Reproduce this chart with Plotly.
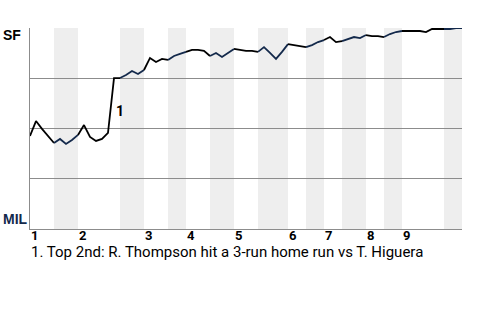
import plotly.graph_objects as go
import numpy as np

# Win probability for SF (%) after each plate appearance (index 0 = game start)
sf_win_prob = [46.3, 53.7, 49.8, 46.3, 42.8,
               44.8, 42.3, 44.3, 46.8,
               51.7, 45.8, 43.8, 44.8, 47.8, 75.1, 75.1,
               76.6, 78.6, 77.1, 79.1,
               85.1, 83.1, 84.6, 84.1,
               86.1, 87.1, 88.1,
               89.1, 89.1, 88.6, 86.1,
               87.6, 85.6, 87.6, 89.6,
               89.1, 88.6, 88.6, 88.1,
               90.5, 87.6, 84.6, 88.1, 92.0,
               91.5, 91.0, 90.5,
               91.5, 93.0, 94.0,
               95.5, 93.0, 93.5,
               94.5, 95.5, 95.0, 96.5,
               96.0, 96.0, 95.5,
               97.0, 98.0, 98.5,
               98.5, 98.5, 98.5, 98.0, 99.5, 99.5, 99.5,
               99.5, 100.0, 100.0]

# Plate appearances per half inning (top 1, bottom 1, top 2, ...)
half_inning_pas = [4, 4, 7, 4, 4, 3, 4, 4, 4, 5, 3, 3, 3, 4, 3, 3, 7, 3]
inning_labels = ["1", "2", "3", "4", "5", "6", "7", "8", "9"]

# Key events
event_index = [14]
event_labels = ["1"]
footnote = "1. Top 2nd: R. Thompson hit a 3-run home run vs T. Higuera"

away_team, home_team = "SF", "MIL"
away_color, home_color = "#000000", "#13294B"
FONT = "Liberation Sans, Arial, sans-serif"
FONT2 = "Roboto, sans-serif"

bounds = np.concatenate([[0], np.cumsum(half_inning_pas)])
total = int(bounds[-1])
xs = list(range(len(sf_win_prob)))

fig = go.Figure()
for i in range(len(half_inning_pas)):
    a, b = int(bounds[i]), int(bounds[i + 1])
    fig.add_trace(go.Scatter(
        x=xs[a:b + 1], y=sf_win_prob[a:b + 1], mode="lines",
        line=dict(color=away_color if i % 2 == 0 else home_color, width=1.8),
        hoverinfo="skip", showlegend=False))

shapes = []
for i in range(1, len(half_inning_pas), 2):
    shapes.append(dict(type="rect", xref="x", yref="paper",
                       x0=bounds[i], x1=bounds[i + 1], y0=0, y1=1,
                       fillcolor="#eeeeee", line=dict(width=0), layer="below"))

annotations = []
for k, lab in enumerate(inning_labels):
    annotations.append(dict(x=bounds[2 * k], y=-0.033, xref="x", yref="paper",
                            text="<b>%s</b>" % lab, showarrow=False,
                            xanchor="left", yanchor="middle", xshift=0, borderpad=0,
                            font=dict(size=13, color="#000000", family=FONT2)))
for idx, lab in zip(event_index, event_labels):
    mid = (sf_win_prob[idx - 1] + sf_win_prob[idx]) / 2
    annotations.append(dict(x=idx, y=mid, xref="x", yref="y",
                            text="<b>%s</b>" % lab, showarrow=False,
                            xanchor="left", yanchor="middle", xshift=0, yshift=-6,
                            font=dict(size=14, color="#000000", family=FONT2)))
annotations.append(dict(x=-0.067, y=96.5, xref="paper", yref="y", text="<b>%s</b>" % away_team,
                        showarrow=False, xanchor="left", yanchor="middle",
                        font=dict(size=14, color=away_color, family=FONT)))
annotations.append(dict(x=-0.067, y=5, xref="paper", yref="y", text="<b>%s</b>" % home_team,
                        showarrow=False, xanchor="left", yanchor="middle",
                        font=dict(size=14, color=home_color, family=FONT)))
annotations.append(dict(x=0.0, y=-0.115, xref="paper", yref="paper", text=footnote,
                        showarrow=False, xanchor="left", yanchor="middle", borderpad=0,
                        font=dict(size=15, color="#000000", family=FONT2)))

fig.update_layout(
    width=480, height=320,
    margin=dict(l=30, r=18, t=28, b=91),
    paper_bgcolor="white", plot_bgcolor="white",
    font=dict(family=FONT, size=13, color="#000"),
    shapes=shapes, annotations=annotations,
    xaxis=dict(range=[0, total], showgrid=False, zeroline=False, showticklabels=False,
               ticks="", showline=True, linecolor="#8c8c8c", linewidth=1, fixedrange=True),
    yaxis=dict(range=[0, 100], tickvals=[0, 25, 50, 75, 100], showgrid=True,
               gridcolor="#8c8c8c", gridwidth=1, zeroline=False, showticklabels=False,
               ticks="", showline=True, linecolor="#8c8c8c", linewidth=1, fixedrange=True),
)
fig.write_html("out.html")
